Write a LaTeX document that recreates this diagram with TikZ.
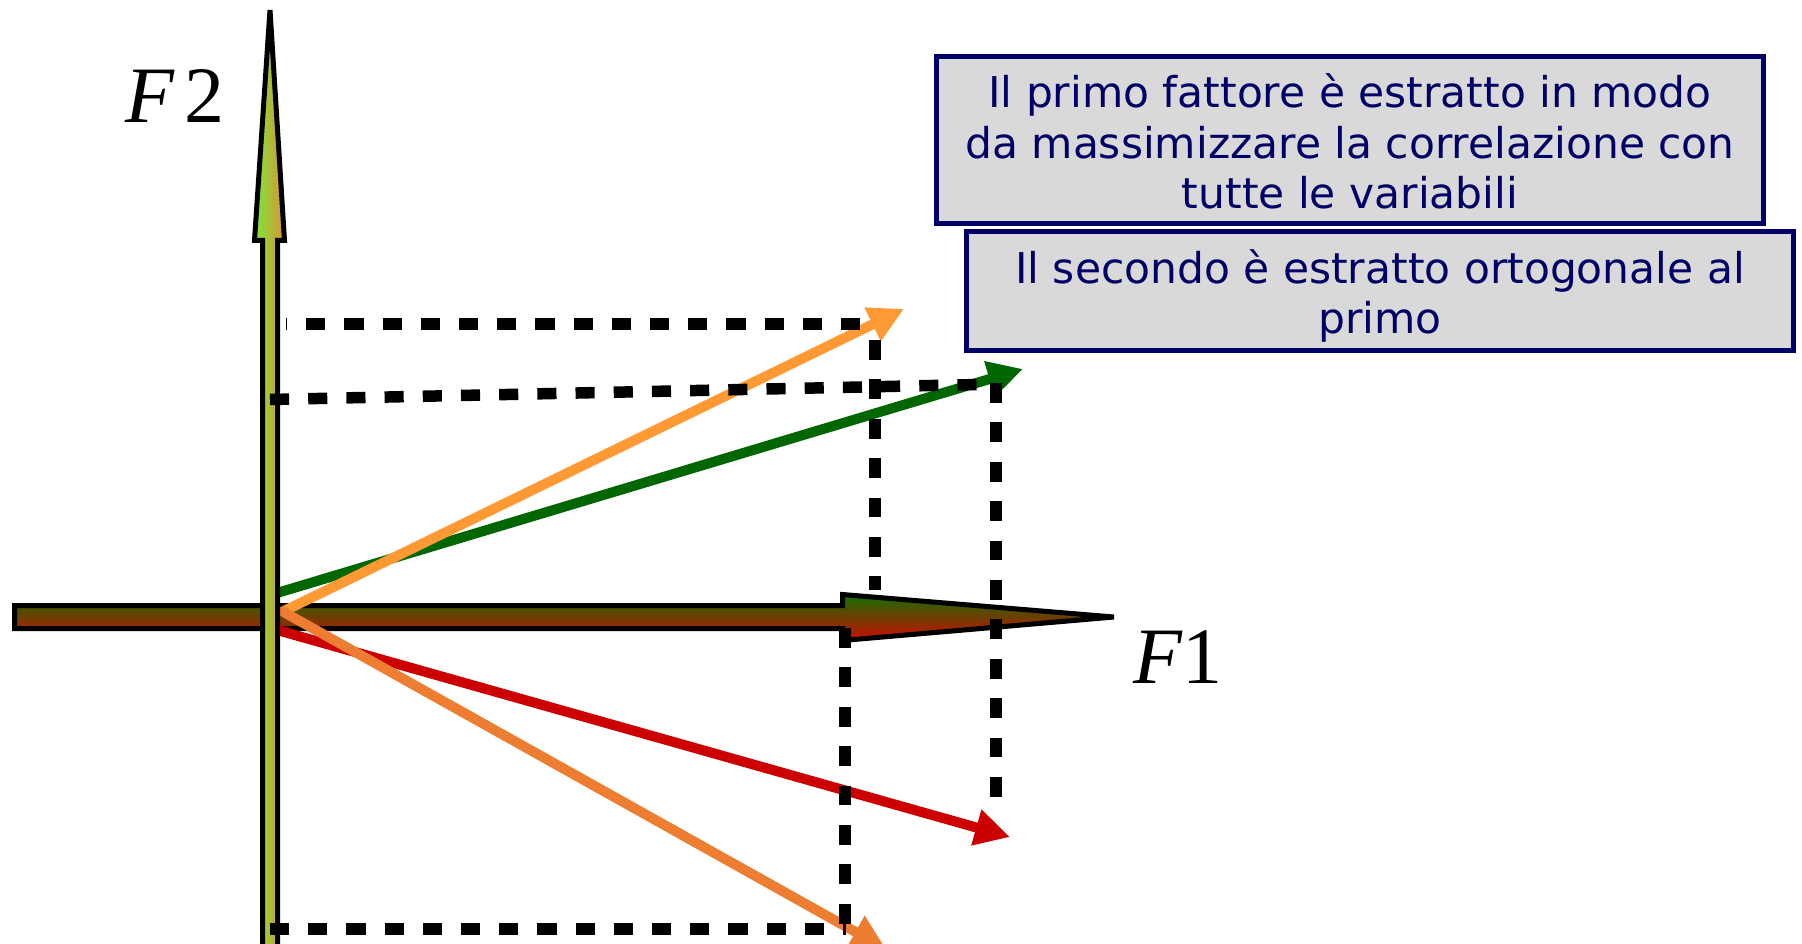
\documentclass[tikz,border=0pt]{standalone}
\usepackage{fontspec}
\setmainfont{DejaVu Sans}
\newfontfamily\timesf{Liberation Serif}
\usetikzlibrary{arrows.meta}
\definecolor{navy}{RGB}{0,0,102}
\definecolor{boxgray}{RGB}{217,217,217}
\definecolor{axgreen}{RGB}{20,110,0}
\definecolor{axred}{RGB}{205,12,0}
\definecolor{vgreen}{RGB}{120,232,60}
\definecolor{vorange}{RGB}{222,145,50}
\definecolor{lorange}{RGB}{255,153,51}
\definecolor{dorange}{RGB}{237,125,49}
\definecolor{vecgreen}{RGB}{0,102,0}
\definecolor{vecred}{RGB}{204,0,0}
\begin{document}
\begin{tikzpicture}[x=1pt,y=-1pt,
  vec/.style={line width=10pt,-{Triangle[length=35pt,width=35pt]}},
  hdash/.style={line width=11.5pt,dash pattern=on 19.1pt off 19.1pt},
  vdash/.style={line width=11.5pt,dash pattern=on 19.7pt off 19.7pt},
  boxnode/.style={draw=navy,fill=boxgray,line width=5pt,inner sep=0pt},
  boxtext/.style={text=navy,align=center,inner sep=0pt,font=\fontsize{42.4}{50.5}\selectfont},
  axlabel/.style={inner sep=0pt,anchor=base west,font=\timesf\fontsize{80}{80}\selectfont}]
\useasboundingbox (0,0) rectangle (1802,944);
\fill[white] (0,0) rectangle (1802,944);

% coordinates
\coordinate (o1) at (282,612);
\coordinate (o2) at (277,593);
\coordinate (o3) at (277,630);
\coordinate (o4) at (280,610);
\coordinate (t1) at (904,309);
\coordinate (t2) at (1023,369);
\coordinate (t3) at (1010,837);
\coordinate (t4) at (886,949);

% F1 axis
\shade[top color=axgreen,bottom color=axred,draw=black,line width=5pt]
  (14.5,605.5) -- (842.5,605.5) -- (842.5,594.5) -- (1114,617) --
  (842.5,640.5) -- (842.5,628.5) -- (14.5,628.5) -- cycle;

% vectors
\draw[vec,vecgreen] (o2) -- (t2);
\draw[vec,vecred] (o3) -- (t3);
\draw[vec,lorange] (o1) -- (t1);
\draw[vec,dorange] (o4) -- (t4);

% F2 axis
\shade[left color=vgreen,right color=vorange,draw=black,line width=5pt]
  (262.5,960) -- (262.5,240.5) -- (254.5,240.5) -- (270,10) --
  (284.5,240.5) -- (277.5,240.5) -- (277.5,960) -- cycle;

% dashed projections
\coordinate (h1a) at (286,324);
\coordinate (h1b) at (862,324);
\coordinate (v1a) at (875,340);
\coordinate (v1b) at (875,590);
\coordinate (h2a) at (270,399.5);
\coordinate (h2b) at (980,384.5);
\coordinate (v2a) at (996,383);
\coordinate (v2b) at (996,799);
\coordinate (v3a) at (845,628);
\coordinate (v3b) at (845,929);
\coordinate (h3a) at (270,929);
\coordinate (h3b) at (846,929);
\draw[hdash,dash phase=18] (h1a) -- (h1b);
\draw[vdash] (v1a) -- (v1b);
\draw[hdash] (h2a) -- (h2b);
\draw[vdash] (v2a) -- (v2b);
\draw[vdash] (v3a) -- (v3b);
\draw[hdash] (h3a) -- (h3b);

% boxes
\node[boxnode,minimum width=827pt,minimum height=167pt] (b1) at (1350,140) {};
\node[boxnode,minimum width=827pt,minimum height=119pt] (b2) at (1380,291) {};
\node[boxtext] (tb1) at (1350,141.5) {Il primo fattore è estratto in modo\\da massimizzare la correlazione con\\tutte le variabili};
\node[boxtext] (tb2) at (1380,296) {Il secondo è estratto ortogonale al\\primo};

% axis labels
\node[axlabel] (lf2) at (125,123) {\itshape F\upshape\kern10pt 2};
\node[axlabel] (lf1) at (1133,683) {\itshape F\upshape\kern0pt 1};
\end{tikzpicture}
\end{document}
